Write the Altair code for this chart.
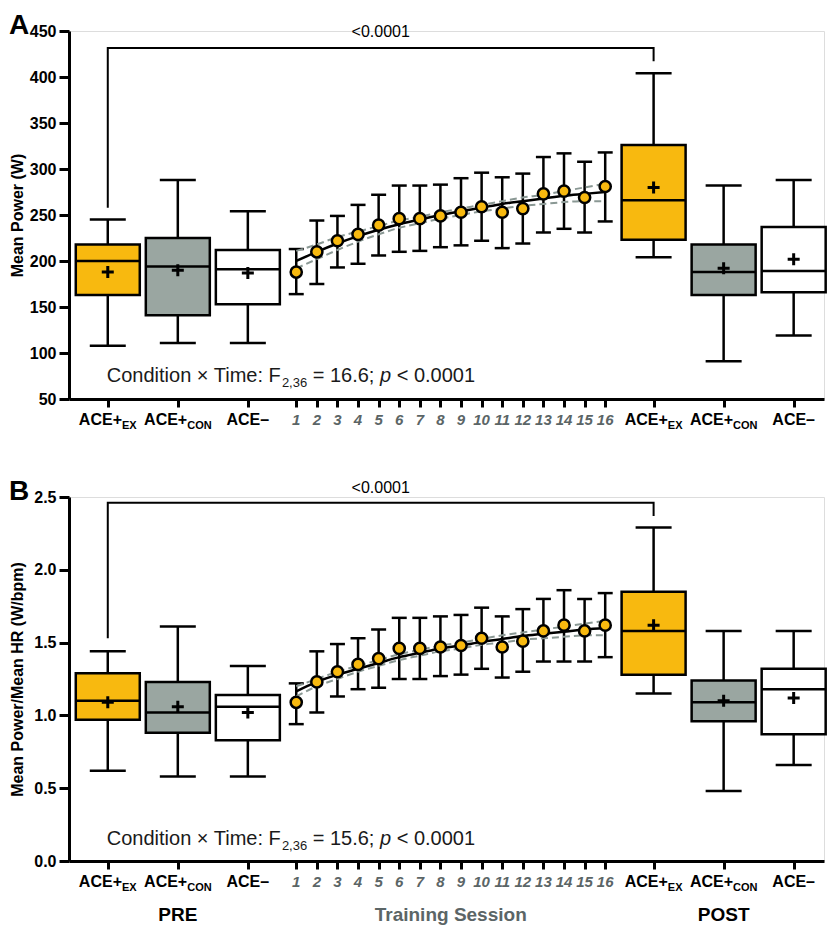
import altair as alt
import pandas as pd

FONT = "Liberation Sans"
ORANGE = "#F8B90F"
GRAY = "#9AA6A1"
WHITE = "#FFFFFF"
BAND = "#8A9894"
SESS_COLOR = "#5B6566"

# ---------------- categories ----------------
COND_MAIN = ["ACE+", "ACE+", "ACE\u2013"]
COND_SUB = ["EX", "CON", ""]
COND_FILL = [ORANGE, GRAY, WHITE]
SESSIONS = list(range(1, 17))

# x slots (layout): sessions sit on their own number
PRE_SLOTS = [-8.15, -4.75, -1.35]
POST_SLOTS = [18.35, 21.75, 25.15]
X_DOMAIN = [-9.79, 26.38]

# ---------------- panel A: Mean Power (W) ----------------
A_PRE_LO = [108, 111, 111]
A_PRE_Q1 = [163, 141, 153]
A_PRE_MED = [200, 194, 191]
A_PRE_Q3 = [218, 225, 212]
A_PRE_HI = [245, 288, 254]
A_PRE_MEAN = [188, 190, 187]

A_POST_LO = [204, 91, 119]
A_POST_Q1 = [223, 163, 166]
A_POST_MED = [266, 188, 189]
A_POST_Q3 = [326, 218, 237]
A_POST_HI = [404, 282, 288]
A_POST_MEAN = [280, 192, 202]

A_SESS_MEAN = [188, 210, 222, 229, 239, 246, 246, 249, 253, 259, 253, 257, 273, 276, 269, 281]
A_SESS_UP = [213, 244, 249, 261, 272, 282, 282, 283, 290, 296, 291, 295, 313, 317, 308, 318]
A_SESS_LO = [164, 175, 193, 197, 206, 210, 211, 215, 217, 222, 214, 219, 231, 235, 231, 243]
A_FIT = [200, 210, 219, 227, 234, 240, 245, 250, 254, 258, 262, 265, 268, 271, 273, 275]
A_BAND_UP = [211, 218, 226, 232, 238, 244, 248, 253, 257, 261, 265, 269, 272, 276, 280, 284]
A_BAND_LO = [192, 202, 212, 221, 229, 236, 241, 246, 250, 254, 257, 260, 262, 264, 265, 265]

A_BRACKET = [258, 431.5, 431.5, 417]
A_P_LABEL_Y = 443.5
A_COND_Y = 69
A_F_VALUE = "16.6"

# ---------------- panel B: Mean Power/Mean HR (W/bpm) ----------------
B_PRE_LO = [0.62, 0.58, 0.58]
B_PRE_Q1 = [0.97, 0.88, 0.83]
B_PRE_MED = [1.10, 1.02, 1.06]
B_PRE_Q3 = [1.29, 1.23, 1.14]
B_PRE_HI = [1.44, 1.61, 1.34]
B_PRE_MEAN = [1.09, 1.06, 1.02]

B_POST_LO = [1.15, 0.48, 0.66]
B_POST_Q1 = [1.28, 0.96, 0.87]
B_POST_MED = [1.58, 1.09, 1.18]
B_POST_Q3 = [1.85, 1.24, 1.32]
B_POST_HI = [2.29, 1.58, 1.58]
B_POST_MEAN = [1.62, 1.10, 1.12]

B_SESS_MEAN = [1.09, 1.23, 1.30, 1.35, 1.39, 1.46, 1.46, 1.47, 1.48, 1.53, 1.47, 1.51, 1.58, 1.62, 1.58, 1.62]
B_SESS_UP = [1.22, 1.44, 1.49, 1.53, 1.59, 1.67, 1.67, 1.68, 1.69, 1.74, 1.68, 1.73, 1.80, 1.86, 1.80, 1.84]
B_SESS_LO = [0.94, 1.02, 1.13, 1.18, 1.19, 1.25, 1.25, 1.27, 1.28, 1.32, 1.26, 1.30, 1.37, 1.37, 1.37, 1.40]
B_FIT = [1.165, 1.23, 1.28, 1.32, 1.36, 1.40, 1.43, 1.46, 1.48, 1.505, 1.525, 1.545, 1.56, 1.575, 1.59, 1.60]
B_BAND_UP = [1.20, 1.25, 1.30, 1.34, 1.38, 1.42, 1.45, 1.48, 1.50, 1.525, 1.55, 1.57, 1.59, 1.61, 1.63, 1.65]
B_BAND_LO = [1.13, 1.20, 1.25, 1.30, 1.34, 1.38, 1.41, 1.44, 1.46, 1.485, 1.50, 1.52, 1.53, 1.54, 1.55, 1.55]

B_BRACKET = [1.53, 2.46, 2.46, 2.37]
B_P_LABEL_Y = 2.527
B_COND_Y = 0.11
B_F_VALUE = "15.6"

WIDTH = 755


def build_panel(letter, H, ydom, yvals, yfmt, ytitle,
                pre, post, sess, fit, band_up, band_lo,
                bracket, p_y, cond_y, fval, groups):
    x_axis = alt.Axis(values=PRE_SLOTS + SESSIONS + POST_SLOTS, labels=False, title=None,
                      tickSize=8, tickWidth=3, tickColor="black",
                      domainColor="black", domainWidth=3, grid=False)
    y_axis = alt.Axis(values=yvals, format=yfmt, title=ytitle, grid=False,
                      tickSize=10, tickWidth=3, tickColor="black",
                      domainColor="black", domainWidth=3,
                      labelFont=FONT, labelFontSize=16, labelFontWeight="bold",
                      labelColor="black", labelPadding=3,
                      titleFont=FONT, titleFontSize=16, titleFontWeight="bold",
                      titleColor="black", titleX=-52, titleY=H / 2, titleAngle=270,
                      titleBaseline="middle", titleAlign="center")
    xs = alt.Scale(domain=X_DOMAIN, nice=False, zero=False)
    ys = alt.Scale(domain=ydom, nice=False, zero=False)

    def X(f="x"):
        return alt.X(f"{f}:Q", scale=xs, axis=x_axis)

    def Y(f):
        return alt.Y(f"{f}:Q", scale=ys, axis=y_axis)

    boxes = pd.DataFrame({
        "x": PRE_SLOTS + POST_SLOTS,
        "lo": pre[0] + post[0], "q1": pre[1] + post[1], "med": pre[2] + post[2],
        "q3": pre[3] + post[3], "hi": pre[4] + post[4], "mean": pre[5] + post[5],
        "fill": COND_FILL + COND_FILL,
    })
    sess_df = pd.DataFrame({"x": SESSIONS, "mean": sess[0], "up": sess[1], "lo": sess[2],
                            "label": [str(s) for s in SESSIONS]})
    fit_df = pd.DataFrame({"x": SESSIONS, "fit": fit})
    band_df = pd.DataFrame({
        "x": SESSIONS + SESSIONS,
        "y": band_up + band_lo,
        "which": ["up"] * 16 + ["lo"] * 16,
    })
    br_df = pd.DataFrame({
        "x": [PRE_SLOTS[0], PRE_SLOTS[0], POST_SLOTS[0], POST_SLOTS[0]],
        "y": bracket, "o": [0, 1, 2, 3],
    })
    p_df = pd.DataFrame({"x": [(PRE_SLOTS[0] + POST_SLOTS[0]) / 2], "y": [p_y], "t": ["<0.0001"]})
    lab_df = pd.DataFrame({"x": PRE_SLOTS + POST_SLOTS, "main": COND_MAIN + COND_MAIN,
                           "sub": COND_SUB + COND_SUB})
    one = pd.DataFrame({"x": [PRE_SLOTS[0]], "y": [cond_y]})

    layers = []
    # box whiskers
    layers.append(alt.Chart(boxes).mark_rule(color="black", strokeWidth=2.5).encode(
        x=X(), y=Y("lo"), y2="hi"))
    layers.append(alt.Chart(boxes).transform_fold(["lo", "hi"], as_=["k", "v"]).mark_tick(
        orient="horizontal", size=36, thickness=2.5, color="black", opacity=1).encode(x=X(), y=Y("v")))
    layers.append(alt.Chart(boxes).mark_bar(size=64, stroke="black", strokeWidth=2.5, opacity=1).encode(
        x=X(), y=Y("q1"), y2="q3", color=alt.Color("fill:N", scale=None)))
    layers.append(alt.Chart(boxes).mark_tick(
        orient="horizontal", size=64, thickness=2.5, color="black", opacity=1).encode(x=X(), y=Y("med")))
    layers.append(alt.Chart(boxes).mark_point(
        shape="M-1,0L1,0M0,-1L0,1", filled=False, color="black", strokeWidth=3, size=144, opacity=1
    ).encode(x=X(), y=Y("mean")))
    # session error bars
    layers.append(alt.Chart(sess_df).mark_rule(color="black", strokeWidth=2.5).encode(
        x=X(), y=Y("lo"), y2="up"))
    layers.append(alt.Chart(sess_df).transform_fold(["lo", "up"], as_=["k", "v"]).mark_tick(
        orient="horizontal", size=15, thickness=2.5, color="black", opacity=1).encode(x=X(), y=Y("v")))
    # confidence band and fit
    layers.append(alt.Chart(band_df).mark_line(color=BAND, strokeWidth=2, strokeDash=[7, 4],
                                                interpolate="monotone").encode(
        x=X(), y=Y("y"), detail="which:N"))
    layers.append(alt.Chart(fit_df).mark_line(color="black", strokeWidth=2.5, interpolate="monotone").encode(
        x=X(), y=Y("fit")))
    layers.append(alt.Chart(sess_df).mark_circle(size=125, color=ORANGE, stroke="black",
                                                 strokeWidth=2.5, opacity=1).encode(x=X(), y=Y("mean")))
    # significance bracket
    layers.append(alt.Chart(br_df).mark_line(color="black", strokeWidth=2).encode(
        x=X(), y=Y("y"), order="o:Q"))
    layers.append(alt.Chart(p_df).mark_text(font=FONT, fontSize=16, color="black", align="center",
                                            baseline="alphabetic").encode(x=X(), y=Y("y"), text="t:N"))
    # condition x time annotation (pieces laid side by side, Arial metrics)
    pieces = [
        ("Condition \u00d7 Time: F", 0, 0, 20, "normal"),
        ("2,36", 175.1, 5, 13, "normal"),
        ("= " + fval + ";", 205.9, 0, 20, "normal"),
        ("p", 273.2, 0, 20, "italic"),
        ("< 0.0001", 289.9, 0, 20, "normal"),
    ]
    for txt, dx, dy, fs, style in pieces:
        layers.append(alt.Chart(one).mark_text(
            font=FONT, fontSize=fs, fontStyle=style, color="#1a1a1a", align="left",
            baseline="alphabetic", dx=dx - 1, dy=dy, text=txt).encode(x=X(), y=Y("y")))
    # x tick labels: ACE+ with subscript
    for sub, shift in (("EX", 14.2), ("CON", 9.4)):
        layers.append(alt.Chart(lab_df).transform_filter(f"datum.sub == '{sub}'").mark_text(
            font=FONT, fontSize=16, fontWeight="bold", color="black", align="right",
            baseline="alphabetic", dx=shift).encode(x=X(), y=alt.value(H + 26), text="main:N"))
        layers.append(alt.Chart(lab_df).transform_filter(f"datum.sub == '{sub}'").mark_text(
            font=FONT, fontSize=11, fontWeight="bold", color="black", align="left",
            baseline="alphabetic", dx=shift, dy=4).encode(x=X(), y=alt.value(H + 26), text="sub:N"))
    layers.append(alt.Chart(lab_df).transform_filter("datum.sub == ''").mark_text(
        font=FONT, fontSize=16, fontWeight="bold", color="black", align="center",
        baseline="alphabetic").encode(x=X(), y=alt.value(H + 26), text="main:N"))
    layers.append(alt.Chart(sess_df).mark_text(
        font=FONT, fontSize=15, fontWeight="bold", fontStyle="italic", color=SESS_COLOR,
        align="center", baseline="alphabetic").encode(x=X(), y=alt.value(H + 26), text="label:N"))
    # panel letter
    layers.append(alt.Chart(one).mark_text(
        font=FONT, fontSize=28, fontWeight="bold", color="black", align="left",
        baseline="alphabetic", text=letter).encode(x=alt.value(-60), y=alt.value(3)))
    if groups:
        g_df = pd.DataFrame({"x": [PRE_SLOTS[1], (SESSIONS[0] + SESSIONS[-1]) / 2, POST_SLOTS[1]],
                             "t": ["PRE", "Training Session", "POST"],
                             "c": ["black", SESS_COLOR, "black"]})
        layers.append(alt.Chart(g_df).mark_text(
            font=FONT, fontSize=19, fontWeight="bold", align="center", baseline="alphabetic").encode(
            x=X(), y=alt.value(H + 60), text="t:N", color=alt.Color("c:N", scale=None)))
    return alt.layer(*layers).properties(width=WIDTH, height=H)


panel_a = build_panel(
    "A", 368, [50, 450], list(range(50, 451, 50)), "d", "Mean Power (W)",
    [A_PRE_LO, A_PRE_Q1, A_PRE_MED, A_PRE_Q3, A_PRE_HI, A_PRE_MEAN],
    [A_POST_LO, A_POST_Q1, A_POST_MED, A_POST_Q3, A_POST_HI, A_POST_MEAN],
    [A_SESS_MEAN, A_SESS_UP, A_SESS_LO], A_FIT, A_BAND_UP, A_BAND_LO,
    A_BRACKET, A_P_LABEL_Y, A_COND_Y, A_F_VALUE, False)

panel_b = build_panel(
    "B", 364, [0, 2.5], [0, 0.5, 1.0, 1.5, 2.0, 2.5], ".1f", "Mean Power/Mean HR (W/bpm)",
    [B_PRE_LO, B_PRE_Q1, B_PRE_MED, B_PRE_Q3, B_PRE_HI, B_PRE_MEAN],
    [B_POST_LO, B_POST_Q1, B_POST_MED, B_POST_Q3, B_POST_HI, B_POST_MEAN],
    [B_SESS_MEAN, B_SESS_UP, B_SESS_LO], B_FIT, B_BAND_UP, B_BAND_LO,
    B_BRACKET, B_P_LABEL_Y, B_COND_Y, B_F_VALUE, True)

chart = alt.vconcat(panel_a, panel_b, spacing=45).properties(
    padding={"left": 0, "right": 0, "top": 3, "bottom": 0}
).configure_view(stroke=None).configure(font=FONT)

chart.save("out.html", embed_options={"renderer": "svg", "actions": False})
